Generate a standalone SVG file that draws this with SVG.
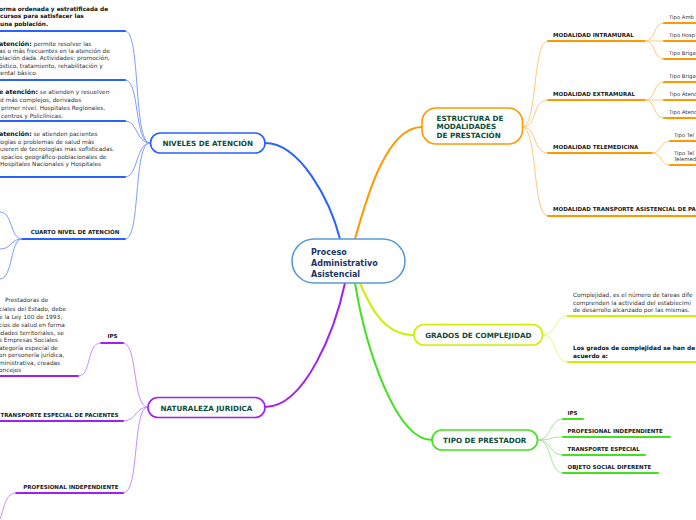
<svg xmlns="http://www.w3.org/2000/svg" width="696" height="520" viewBox="0 0 696 520">
<style>
.bg{fill:#ffffff}
.nbox{fill:#ffffff;stroke-width:1.6}
.nl{font-family:"DejaVu Sans",Verdana,sans-serif;font-weight:bold;font-size:7.2px;fill:#0e4d3a}
.cl{font-family:"DejaVu Sans",Verdana,sans-serif;font-weight:bold;font-size:8px;fill:#1b3566}
.sl{font-family:"DejaVu Sans",Verdana,sans-serif;font-weight:bold;font-size:5.5px;fill:#1a1a1a}
.dl{font-family:"DejaVu Sans",Verdana,sans-serif;font-size:5.8px;fill:#333333}
.tl{font-family:"DejaVu Sans",Verdana,sans-serif;font-size:5.3px;fill:#333333}
.db{font-family:"DejaVu Sans",Verdana,sans-serif;font-weight:bold;font-size:5.8px;fill:#111111}
.bb{font-weight:bold;font-size:6.2px;fill:#111111}
.main{fill:none;stroke-width:2;stroke-linecap:round}
.cur{fill:none;stroke-width:1}
.ul{fill:none;stroke-width:2;stroke-linecap:round}
.blue{stroke:#2962ff}.blueL{stroke:#7d9dff}
.org{stroke:#ff9900}.orgL{stroke:#ffc97a}
.pur{stroke:#a020f0}.purL{stroke:#cf8bff}
.yel{stroke:#ccf000}.yelL{stroke:#e2f97a}
.grn{stroke:#44e022}.grnL{stroke:#99ee88}
</style>
<rect class="bg" x="0" y="0" width="696" height="520"/>

<g id="connectors">
  <path class="main blue" d="M340,239 C330,200 300,143 265,143"/>
  <path class="main org" d="M355,239 C366,200 386,127 422,127"/>
  <path class="main pur" d="M345,283 C335,330 305,407 265,407"/>
  <path class="main yel" d="M360,283 C372,312 386,335 414,335"/>
  <path class="main grn" d="M355,283 C366,350 396,440 432,440"/>

  <path class="cur blueL" d="M125,31 C141,31 133,143 150,143"/>
  <path class="cur blueL" d="M125,80 C140,80 134,143 150,143"/>
  <path class="cur blueL" d="M125,121 C138,121 136,143 150,143"/>
  <path class="cur blueL" d="M125,177 C138,177 136,143 150,143"/>
  <path class="cur blueL" d="M125,239 C141,239 133,143 150,143"/>
  <path class="ul blue" d="M0,31 H125"/>
  <path class="ul blue" d="M0,80 H125"/>
  <path class="ul blue" d="M0,121 H125"/>
  <path class="ul blue" d="M0,177 H125"/>
  <path class="ul blue" d="M22,239 H125"/>
  <path class="cur blueL" d="M22,239 C10,239 13,212 0,212"/>
  <path class="cur blueL" d="M22,239 C10,239 12,249 0,249"/>
  <path class="cur blueL" d="M22,239 C10,239 13,279 0,279"/>

  <path class="cur purL" d="M123,343 C138,343 132,407 148,407"/>
  <path class="cur purL" d="M123,421 C136,421 136,407 148,407"/>
  <path class="cur purL" d="M123,493 C140,493 132,407 148,407"/>
  <path class="ul pur" d="M101,343 H123"/>
  <path class="cur purL" d="M101,343 C86,343 92,376 78,376"/>
  <path class="ul pur" d="M0,376 H78"/>
  <path class="ul pur" d="M0,421 H123"/>
  <path class="ul pur" d="M16,493 H123"/>
  <path class="cur purL" d="M16,493 C6,493 5,505 0,519"/>

  <path class="cur orgL" d="M522,127 C538,127 532,41 548,41"/>
  <path class="cur orgL" d="M522,127 C538,127 532,100 548,100"/>
  <path class="cur orgL" d="M522,127 C538,127 532,153 548,153"/>
  <path class="cur orgL" d="M522,127 C538,127 532,216 548,216"/>
  <path class="ul org" d="M548,41 H645"/>
  <path class="ul org" d="M548,100 H645"/>
  <path class="ul org" d="M548,153 H652"/>
  <path class="ul org" d="M548,216 H696"/>
  <path class="cur orgL" d="M645,41 C656,41 653,23 664,23"/>
  <path class="cur orgL" d="M645,41 H664"/>
  <path class="cur orgL" d="M645,41 C656,41 653,59 664,59"/>
  <path class="ul org" d="M664,23 H696"/>
  <path class="ul org" d="M664,41 H696"/>
  <path class="ul org" d="M664,59 H696"/>
  <path class="cur orgL" d="M645,100 C656,100 653,82 664,82"/>
  <path class="cur orgL" d="M645,100 H664"/>
  <path class="cur orgL" d="M645,100 C656,100 653,118 664,118"/>
  <path class="ul org" d="M664,82 H696"/>
  <path class="ul org" d="M664,100 H696"/>
  <path class="ul org" d="M664,118 H696"/>
  <path class="cur orgL" d="M652,153 C662,153 660,141 670,141"/>
  <path class="cur orgL" d="M652,153 C662,153 660,165 670,165"/>
  <path class="ul org" d="M670,141 H696"/>
  <path class="ul org" d="M670,165 H696"/>

  <path class="cur yelL" d="M543,335 C557,335 554,316 568,316"/>
  <path class="cur yelL" d="M543,335 C557,335 554,362 568,362"/>
  <path class="ul yel" d="M568,316 H696"/>
  <path class="ul yel" d="M568,362 H696"/>

  <path class="cur grnL" d="M538,440 C552,440 549,419 563,419"/>
  <path class="cur grnL" d="M538,440 C552,440 549,437 563,437"/>
  <path class="cur grnL" d="M538,440 C552,440 549,455 563,455"/>
  <path class="cur grnL" d="M538,440 C552,440 549,473 563,473"/>
  <path class="ul grn" d="M563,419 H583"/>
  <path class="ul grn" d="M563,437 H670"/>
  <path class="ul grn" d="M563,455 H645"/>
  <path class="ul grn" d="M563,473 H658"/>
</g>

<g id="central">
  <rect class="nbox" x="292" y="239" width="113" height="44" rx="22" stroke="#5b9bd5"/>
  <text class="cl" x="311" y="254.5">Proceso</text>
  <text class="cl" x="311" y="265.5">Administrativo</text>
  <text class="cl" x="311" y="276.5">Asistencial</text>
</g>

<g id="niveles">
  <rect class="nbox" x="150.5" y="133" width="114.5" height="20" rx="10" stroke="#2962ff"/>
  <text class="nl" x="207.7" y="146" text-anchor="middle">NIVELES DE ATENCIÓN</text>
</g>
<g id="niveles-def">
  <text class="db" x="-1" y="10.5">orma ordenada y estratificada de</text>
  <text class="db" x="0" y="18">cursos para satisfacer las</text>
  <text class="db" x="0" y="25.5">una población.</text>
</g>
<g id="primer-nivel">
  <text class="dl" x="-1" y="45.5"><tspan class="bb">atención:</tspan> permite resolver las</text>
  <text class="dl" x="-1" y="52.5">as o más frecuentes en la atención de</text>
  <text class="dl" x="-1" y="60">blación dada. Actividades: promoción,</text>
  <text class="dl" x="-1" y="67.5">óstico, tratamiento, rehabilitación y</text>
  <text class="dl" x="-1" y="75">iental básico.</text>
</g>
<g id="segundo-nivel">
  <text class="dl" x="-1" y="94"><tspan class="bb">e atención:</tspan> se atienden y resuelven</text>
  <text class="dl" x="0" y="102">d más complejos, derivados</text>
  <text class="dl" x="1" y="110">primer nivel. Hospitales Regionales,</text>
  <text class="dl" x="1" y="117.5">centros y Policlínicas.</text>
</g>
<g id="tercer-nivel">
  <text class="dl" x="-1" y="136"><tspan class="bb">atención:</tspan> se atienden pacientes</text>
  <text class="dl" x="-1" y="143.5">logías o problemas de salud más</text>
  <text class="dl" x="0" y="151">uieren de tecnologías mas sofisticadas.</text>
  <text class="dl" x="1" y="158.5">spacios geográfico-poblacionales de</text>
  <text class="dl" x="0" y="166">Hospitales Nacionales y Hospitales</text>
</g>
<g id="cuarto-nivel">
  <text class="sl" x="75" y="234.3" text-anchor="middle">CUARTO NIVEL DE ATENCIÓN</text>
</g>

<g id="naturaleza">
  <rect class="nbox" x="148" y="397.5" width="117" height="20" rx="10" stroke="#a020f0"/>
  <text class="nl" x="206.5" y="410.5" text-anchor="middle">NATURALEZA JURIDICA</text>
</g>
<g id="nat-ips">
  <text class="sl" x="112.5" y="337.7" text-anchor="middle">IPS</text>
</g>
<g id="nat-ips-def">
  <text class="dl" x="5" y="302">Prestadoras de</text>
  <text class="dl" x="-1" y="311">ciales del Estado, debe</text>
  <text class="dl" x="-1" y="319">e la Ley 100 de 1993,</text>
  <text class="dl" x="-1" y="327">cios de salud en forma</text>
  <text class="dl" x="-1" y="334.5">idades territoriales, se</text>
  <text class="dl" x="-1" y="342">s Empresas Sociales</text>
  <text class="dl" x="-1" y="349.5">ategoría especial de</text>
  <text class="dl" x="-1" y="357">on personería jurídica,</text>
  <text class="dl" x="-1" y="364.5">ministrativa, creadas</text>
  <text class="dl" x="-1" y="372">oncejos</text>
</g>
<g id="nat-transporte">
  <text class="sl" x="118.5" y="416.7" text-anchor="end">TRANSPORTE ESPECIAL DE PACIENTES</text>
</g>
<g id="nat-profesional">
  <text class="sl" x="118.5" y="488.5" text-anchor="end">PROFESIONAL INDEPENDIENTE</text>
</g>

<g id="estructura">
  <rect class="nbox" x="422" y="108" width="100.5" height="36" rx="14" stroke="#ff9900"/>
  <text class="nl" x="436.5" y="120.5">ESTRUCTURA DE</text>
  <text class="nl" x="436.5" y="129">MODALIDADES</text>
  <text class="nl" x="436.5" y="137.8">DE PRESTACIÓN</text>
</g>
<g id="intramural">
  <text class="sl" x="553" y="36.5">MODALIDAD INTRAMURAL</text>
  <text class="tl" x="669" y="18.8">Tipo Amb</text>
  <text class="tl" x="669" y="36.8">Tipo Hosp</text>
  <text class="tl" x="669" y="54.8">Tipo Briga</text>
</g>
<g id="extramural">
  <text class="sl" x="553" y="95.5">MODALIDAD EXTRAMURAL</text>
  <text class="tl" x="669" y="77.8">Tipo Briga</text>
  <text class="tl" x="669" y="95.8">Tipo Atenc</text>
  <text class="tl" x="669" y="113.8">Tipo Atenc</text>
</g>
<g id="telemedicina">
  <text class="sl" x="553" y="148.5">MODALIDAD TELEMEDICINA</text>
  <text class="tl" x="674" y="136.5">Tipo Tel</text>
  <text class="tl" x="674" y="154.7">Tipo Tel</text>
  <text class="tl" x="674" y="160.5">Telemed</text>
</g>
<g id="transporte-asistencial">
  <text class="sl" x="553" y="211">MODALIDAD TRANSPORTE ASISTENCIAL DE PA</text>
</g>

<g id="grados">
  <rect class="nbox" x="414" y="324.5" width="128.5" height="20.5" rx="10" stroke="#ccf000"/>
  <text class="nl" x="478.3" y="337.5" text-anchor="middle">GRADOS DE COMPLEJIDAD</text>
</g>
<g id="grados-def">
  <text class="dl" x="573" y="297">Complejidad, es el número de tareas dife</text>
  <text class="dl" x="573" y="304.5">comprenden la actividad del establecimi</text>
  <text class="dl" x="573" y="312">de desarrollo alcanzado por las mismas.</text>
</g>
<g id="grados-acuerdo">
  <text class="db" x="573" y="350" style="font-size:5.85px">Los grados de complejidad se han de</text>
  <text class="db" x="573" y="358" style="font-size:5.85px">acuerdo a:</text>
</g>

<g id="tipo">
  <rect class="nbox" x="432" y="430" width="105.5" height="20" rx="10" stroke="#44e022"/>
  <text class="nl" x="484.7" y="443" text-anchor="middle">TIPO DE PRESTADOR</text>
</g>
<g id="tipo-ips"><text class="sl" x="567.5" y="414.7">IPS</text></g>
<g id="tipo-profesional"><text class="sl" x="567.5" y="432.7">PROFESIONAL INDEPENDIENTE</text></g>
<g id="tipo-transporte"><text class="sl" x="567.5" y="450.7">TRANSPORTE ESPECIAL</text></g>
<g id="tipo-objeto"><text class="sl" x="567.5" y="468.5">OBJETO SOCIAL DIFERENTE</text></g>
</svg>
